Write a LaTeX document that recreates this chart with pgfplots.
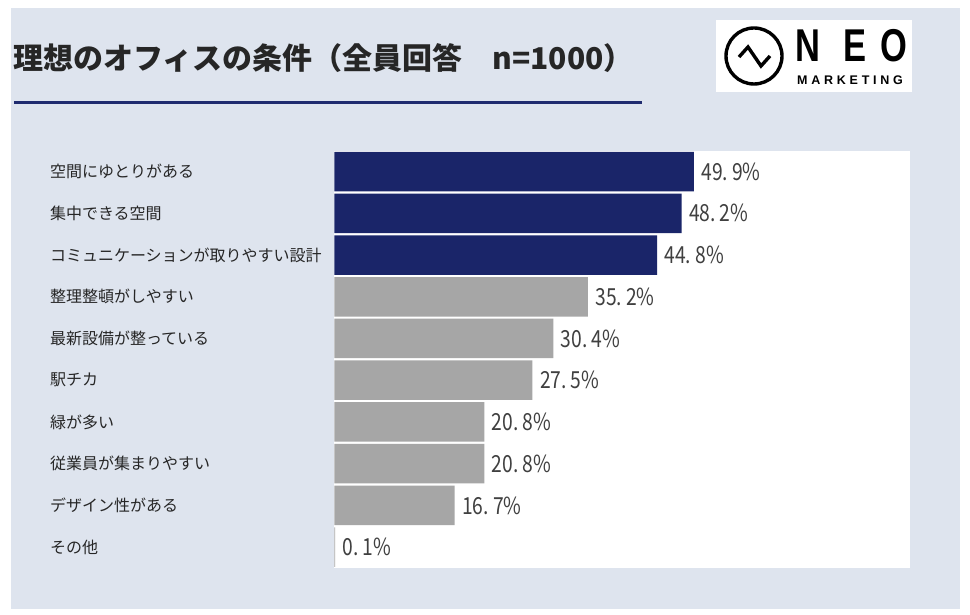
\documentclass[border=0pt]{standalone}
\usepackage{fontspec}
\setmainfont{Noto Sans CJK JP}
\newfontfamily\numfont[FakeStretch=0.82]{Noto Sans CJK JP}
\newfontfamily\logofont[FakeStretch=0.75]{Liberation Sans Bold}
\newfontfamily\logosmall[LetterSpace=30]{Liberation Sans Bold}
\usepackage{pgfplots}
\pgfplotsset{compat=1.18}
\definecolor{bgc}{HTML}{DEE4EE}
\definecolor{navy}{HTML}{1A2569}
\definecolor{linec}{HTML}{1F2B6F}
\definecolor{greybar}{HTML}{A6A6A6}
\definecolor{labc}{HTML}{262626}
\definecolor{valc}{HTML}{404040}
\begin{document}
\begin{tikzpicture}[x=1pt,y=1pt]
\fill[white] (0,0) rectangle (970,614);
\fill[bgc] (11,5) rectangle (960,606);
% title
\node[anchor=west, font=\fontsize{30}{32}\selectfont\bfseries, text=labc, inner sep=0] at (13,556) {理想のオフィスの条件（全員回答　n=1000）};
\fill[linec] (14,509.5) rectangle (642,512.5);
% logo
\fill[white] (716,522) rectangle (912,594);
\draw[line width=3.4pt] (754,558) circle (28);
\draw[line width=3.4pt, line join=miter] (739,557)--(748,567)--(761,548)--(770,558);
\node[font=\logofont\fontsize{46}{46}\selectfont, inner sep=0] at (807.5,568) {N};
\node[font=\logofont\fontsize{46}{46}\selectfont, inner sep=0] at (855,568) {E};
\node[font=\logofont\fontsize{46}{46}\selectfont, inner sep=0] at (894,568) {O};
\node[font=\logosmall\fontsize{12.5}{12.5}\selectfont, inner sep=0, anchor=west] at (797,534) {MARKETING};
\begin{axis}[
  at={(334.5pt,46pt)}, anchor=south west,
  width=576pt, height=417.3pt, scale only axis,
  xmin=0, xmax=80, ymin=-0.5, ymax=9.5, y dir=reverse,
  axis background/.style={fill=white},
  axis line style={draw=none},
  xtick=\empty,
  ytick={0,1,2,3,4,5,6,7,8,9},
  yticklabels={空間にゆとりがある,集中できる空間,コミュニケーションが取りやすい設計,整理整頓がしやすい,最新設備が整っている,駅チカ,緑が多い,従業員が集まりやすい,デザイン性がある,その他},
  ytick style={draw=none},
  yticklabel style={anchor=west, xshift=-288pt, font=\fontsize{16}{18}\selectfont, text=labc},
  clip=false,
  /pgf/number format/assume math mode=true,
  nodes near coords={\numfont\pgfmathprintnumber[fixed,fixed zerofill,precision=1,assume math mode=true,set decimal separator={.\hspace{4pt}}]{\pgfplotspointmeta}\%},
  point meta=x,
  every node near coord/.append style={anchor=west, xshift=4pt, font=\numfont\fontsize{23.5}{25}\selectfont, text=valc},
]
\addplot[xbar, bar width=39.5pt, bar shift=0pt, fill=navy, draw=none] coordinates {(49.9,0) (48.2,1) (44.8,2)};
\addplot[xbar, bar width=39.5pt, bar shift=0pt, fill=greybar, draw=none] coordinates {(35.2,3) (30.4,4) (27.5,5) (20.8,6) (20.8,7) (16.7,8) (0.1,9)};
\end{axis}
\end{tikzpicture}
\end{document}
